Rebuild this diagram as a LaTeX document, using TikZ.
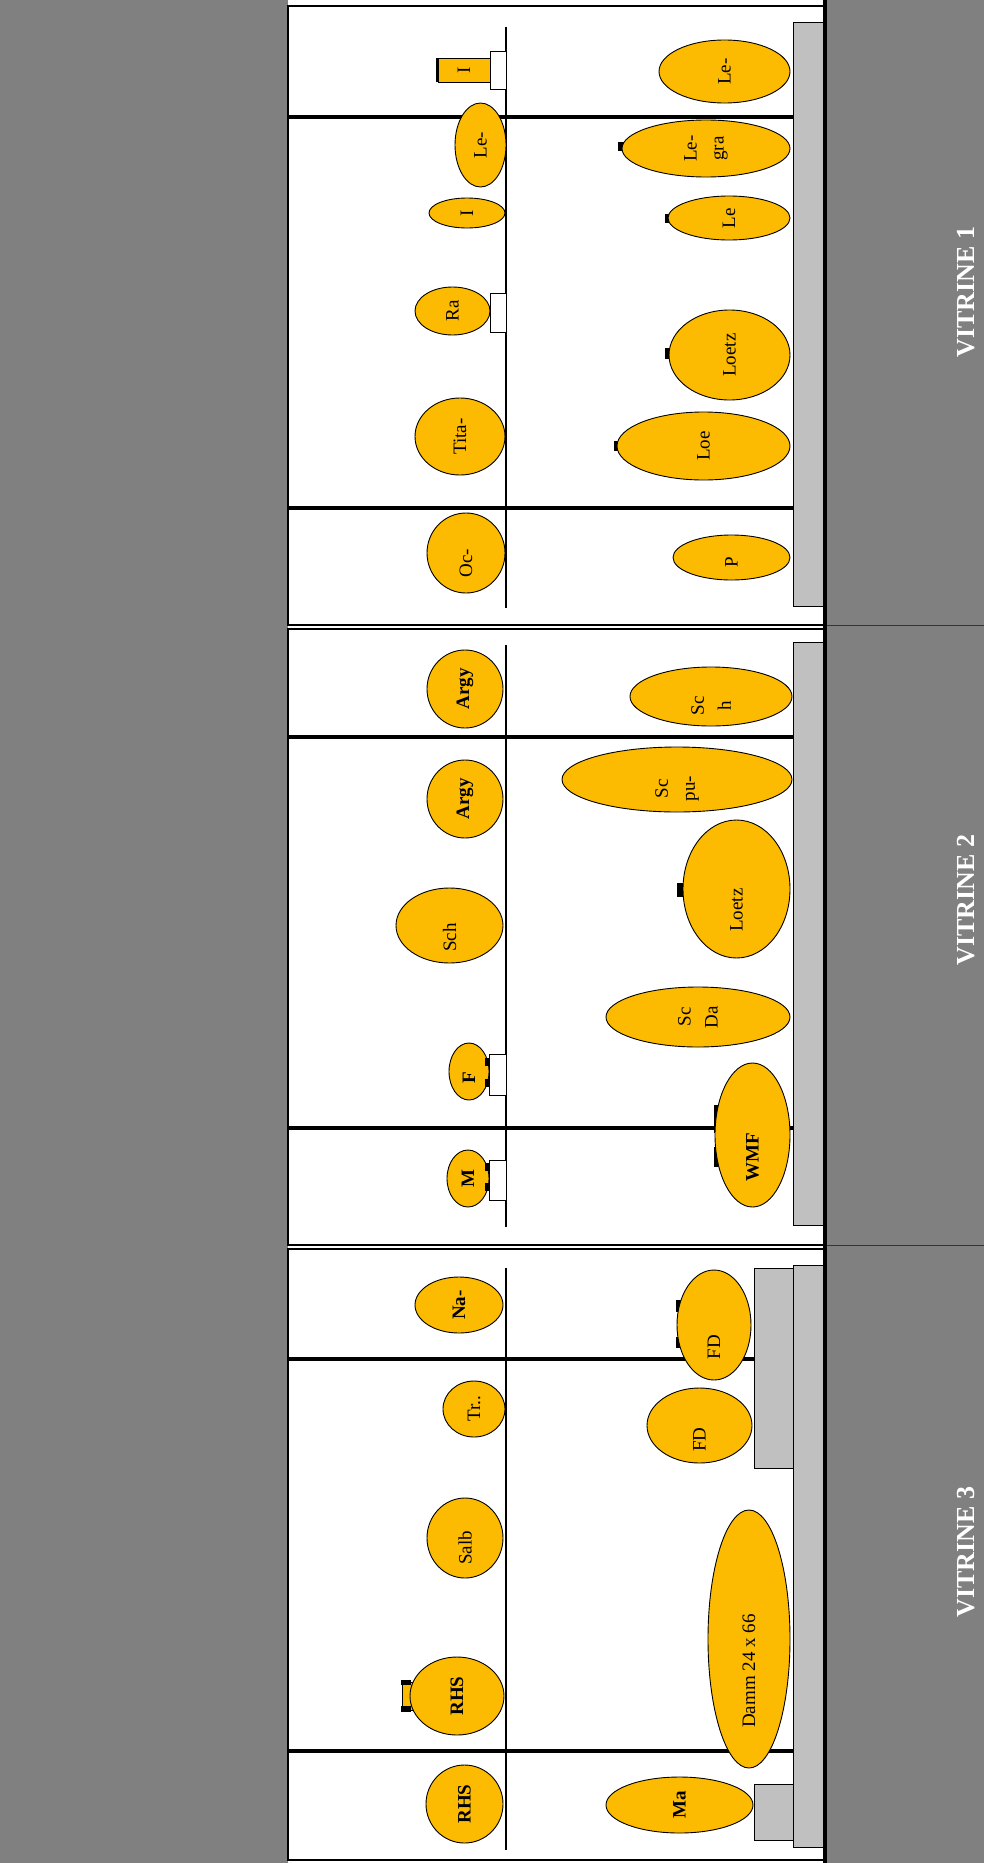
\documentclass[tikz,border=0pt]{standalone}
\usepackage{fontspec}
\setmainfont{Liberation Serif}
\usetikzlibrary{shapes.geometric}
\definecolor{gold}{RGB}{252,186,0}
\definecolor{bandgray}{RGB}{128,128,128}
\definecolor{shelfgray}{RGB}{192,192,192}
\begin{document}
\begin{tikzpicture}[x=1pt,y=-1pt,
  vase/.style={ellipse, draw=black, line width=0.9pt, fill=gold, rotate=90, inner sep=0pt, align=center, text=black, font=\fontsize{19}{27}\selectfont},
  vaseb/.style={vase, font=\bfseries\fontsize{19}{27}\selectfont},
  tag/.style={rectangle, draw=black, line width=0.9pt, fill=gold, rotate=90, inner sep=0pt, font=\fontsize{19}{27}\selectfont},
  stand/.style={draw=black, line width=1pt, fill=white},
  shelf/.style={draw=black, line width=1pt, fill=shelfgray},
  divider/.style={line width=4.5pt},
  rail/.style={line width=1.5pt},
  nub/.style={fill=black},
  title/.style={rotate=90, text=white, font=\bfseries\fontsize{26}{30}\selectfont},
  box/.style={draw=black, line width=2.5pt}
]
\useasboundingbox (0,0) rectangle (984,1863);
\fill[bandgray] (0,0) rectangle (984,1863);
\fill[white] (288,0) rectangle (826,1863);

% dividers
\draw[divider] (288,117) -- (825,117);
\draw[divider] (288,508) -- (825,508);
\draw[divider] (288,737) -- (825,737);
\draw[divider] (288,1128) -- (825,1128);
\draw[divider] (288,1359) -- (825,1359);
\draw[divider] (288,1751) -- (825,1751);

% rails
\draw[rail] (506,27) -- (506,608);
\draw[rail] (506,645) -- (506,1227);
\draw[rail] (506,1268) -- (506,1850);

% shelves
\draw[shelf] (793,22) rectangle (823,606);
\draw[shelf] (793,642) rectangle (823,1225);
\draw[shelf] (793,1265) rectangle (823,1847);
\draw[shelf] (754,1268) rectangle (793,1468);
\draw[shelf] (754,1784) rectangle (793,1840);

% stands
\draw[stand] (490,51) rectangle (506,89);
\draw[stand] (490,293) rectangle (506,332);
\draw[stand] (489,1054) rectangle (506,1095);
\draw[stand] (489,1160) rectangle (506,1200);

% nubs behind
\fill[nub] (614,441) rectangle (620,451);
\fill[nub] (665,348) rectangle (671,359);
\fill[nub] (665,214) rectangle (670,223);
\fill[nub] (618,142) rectangle (624,151);
\fill[nub] (677,883) rectangle (684,897);
\fill[nub] (676,1300) rectangle (682,1312);
\fill[nub] (676,1337) rectangle (682,1348);
\fill[nub] (714,1105) rectangle (720,1133);
\fill[nub] (714,1147) rectangle (720,1167);
\draw[draw=black, line width=0.9pt, fill=gold] (402,1682) rectangle (414,1710);
\fill[nub] (401,1680) rectangle (411,1685);
\fill[nub] (401,1706) rectangle (411,1712);

% VITRINE 1
\node[tag, minimum width=24pt, minimum height=52pt] (irect) at (464,70) {I};
\draw[line width=3pt] (irect.north west) -- (irect.north east);
\node[vase, minimum width=84pt, minimum height=51pt] (lea) at (480.5,145) {Le-};
\node[vase, minimum width=63pt, minimum height=131pt] (leb) at (724.5,71.5) {Le-};
\node[vase, minimum width=30pt, minimum height=76pt] (ia) at (467,213) {I};
\node[vase, minimum width=57pt, minimum height=168pt] (legra) at (706,148.5) {Le-\\gra};
\node[vase, minimum width=44pt, minimum height=122pt] (lec) at (729,218) {Le};
\node[vase, minimum width=48pt, minimum height=75pt] (ra) at (452.5,311) {Ra};
\node[vase, minimum width=90pt, minimum height=121pt] (loetza) at (729.5,355) {Loetz};
\node[vase, minimum width=77pt, minimum height=90pt] (tita) at (460,436.5) {Tita-};
\node[vase, minimum width=68pt, minimum height=173pt] (loe) at (703.5,446) {Loe};
\node[vase, minimum width=80pt, minimum height=78pt] (oc) at (466,553) {Oc-\hspace*{20pt}};
\node[vase, minimum width=45pt, minimum height=117pt] (p) at (731.5,557.5) {P\hspace*{10pt}};

% VITRINE 2
\node[vaseb, minimum width=78pt, minimum height=76pt] (argya) at (465,689) {Argy};
\node[vase, minimum width=59pt, minimum height=162pt] (sch) at (711,696.5) {Sc\hspace*{18pt}\\h\hspace*{18pt}};
\node[vaseb, minimum width=78pt, minimum height=76pt] (argyb) at (465,799) {Argy};
\node[vase, minimum width=65pt, minimum height=230pt] (scpu) at (677,779.5) {Sc\hspace*{18pt}\\pu-\hspace*{18pt}};
\node[vase, minimum width=138pt, minimum height=107pt] (loetzb) at (736.5,889) {Loetz\hspace*{42pt}};
\node[vase, minimum width=75pt, minimum height=107pt] (schb) at (449.5,925.5) {Sch\hspace*{24pt}};
\node[vase, minimum width=60pt, minimum height=184pt] (scda) at (698,1017) {Sc\\Da};
\node[vaseb, minimum width=57pt, minimum height=40pt] (f) at (469,1071.5) {F\hspace*{12pt}};
\node[vaseb, minimum width=144pt, minimum height=75pt] (wmf) at (752.5,1135) {WMF\hspace*{44pt}};
\node[vaseb, minimum width=57pt, minimum height=42pt] (m) at (468,1178.5) {M};
\fill[nub] (485,1058) rectangle (490,1066);
\fill[nub] (485,1079) rectangle (490,1087);
\fill[nub] (485,1163) rectangle (490,1171);
\fill[nub] (485,1183) rectangle (490,1191);

% VITRINE 3
\node[vaseb, minimum width=56pt, minimum height=88pt] (na) at (459,1305) {Na-};
\node[vase, minimum width=110pt, minimum height=74pt] (fda) at (714,1325) {FD\hspace*{44pt}};
\node[vase, minimum width=56pt, minimum height=62pt] (tr) at (474,1409) {Tr..};
\node[vase, minimum width=75pt, minimum height=105pt] (fdb) at (699.5,1425.5) {FD\hspace*{28pt}};
\node[vase, minimum width=80pt, minimum height=76pt] (salb) at (465,1538) {Salb\hspace*{20pt}};
\node[vase, minimum width=258pt, minimum height=82pt] (damm) at (749,1639) {Damm 24 x 66\hspace*{64pt}};
\node[vaseb, minimum width=78pt, minimum height=94pt] (rhsa) at (457,1696) {RHS};
\node[vaseb, minimum width=78pt, minimum height=77pt] (rhsb) at (464.5,1804) {RHS};
\node[vaseb, minimum width=56pt, minimum height=147pt] (ma) at (679.5,1805) {Ma};

% boxes
\draw[box] (288,6) rectangle (825,625);
\draw[box] (288,629) rectangle (825,1245);
\draw[box] (288,1249) rectangle (825,1860);
\draw[line width=4pt] (825.3,0) -- (825.3,1863);
\draw[black!80, line width=1pt] (827,625) -- (984,625);
\draw[black!80, line width=1pt] (827,1245) -- (984,1245);

% titles
\node[title] (v1) at (966,292) {VITRINE 1};
\node[title] (v2) at (966,900) {VITRINE 2};
\node[title] (v3) at (966,1552) {VITRINE 3};
\end{tikzpicture}
\end{document}
